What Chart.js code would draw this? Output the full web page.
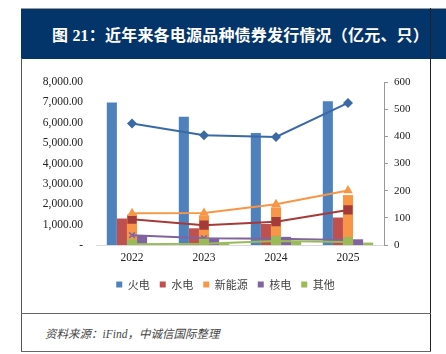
<!DOCTYPE html>
<html>
<head>
<meta charset="utf-8">
<script src="https://cdn.jsdelivr.net/npm/chart.js@4"></script>
<style>
  body { margin: 0; background: #fff; width: 446px; height: 354px; position: relative; overflow: hidden; }
  .band { position: absolute; left: 21px; top: 8px; width: 425px; height: 50px; background: #04356a; border-top: 1px solid #9a9a9a; }
  .title { position: absolute; left: 52px; top: 22px; color: #fff; font: bold 16px "Liberation Serif", "Noto Sans CJK SC"; white-space: nowrap; letter-spacing: 0.2px; }
  .vline { position: absolute; width: 1px; background: #555; }
  .hline { position: absolute; height: 1px; background: #666; }
  .source { position: absolute; left: 45px; top: 325px; color: #444; font: italic 11.5px "Liberation Serif", "Noto Sans CJK SC"; white-space: nowrap; }
  #wrap { position: absolute; left: 22px; top: 60px; }
</style>
</head>
<body>
<div class="band"></div>
<div class="title">图 21：近年来各电源品种债券发行情况（亿元、只）</div>
<div class="vline" style="left:21px;top:58px;height:294px;"></div>
<div class="vline" style="left:430px;top:8px;height:344px;background:#222;"></div>
<div class="hline" style="left:21px;top:313px;width:410px;"></div>
<div class="hline" style="left:21px;top:351px;width:410px;"></div>
<div class="source">资料来源：iFind，中诚信国际整理</div>
<div id="wrap"><canvas id="my-chart" width="407" height="240"></canvas></div>
<script>
// categories
const years = ['2022', '2023', '2024', '2025'];
const seriesNames = ['火电', '水电', '新能源', '核电', '其他'];

// issuance amount, 亿元 (left axis, bars)
const amountCoal = [7000, 6300, 5500, 7050];
const amountHydro = [1300, 820, 1030, 1350];
const amountNewEnergy = [1420, 1450, 1850, 2450];
const amountNuclear = [450, 350, 400, 280];
const amountOther = [60, 80, 150, 120];

// number of bonds, 只 (right axis, lines)
const countCoal = [447, 404, 398, 523];
const countHydro = [95, 73, 86, 129];
const countNewEnergy = [117, 118, 150, 201];
const countNuclear = [36, 25, 23, 18];
const countOther = [3, 5, 15, 11];

const barColors = ['#4f81bd', '#c0504d', '#f79646', '#8064a2', '#9bbb59'];
const lineColors = ['#3b69a6', '#a53b38', '#f79646', '#8064a2', '#9bbb59'];

function bar(i, data) {
  return { type: 'bar', label: seriesNames[i], data: data, yAxisID: 'y', backgroundColor: barColors[i], order: 10 };
}
function line(i, data, style, radius, order) {
  return {
    type: 'line', label: seriesNames[i] + '(只)', data: data, yAxisID: 'y1',
    borderColor: lineColors[i], backgroundColor: lineColors[i], borderWidth: 2,
    pointStyle: style, pointRadius: radius, pointBorderWidth: style === 'crossRot' ? 1.5 : 0,
    pointBorderColor: lineColors[i], tension: 0, order: order
  };
}

const tickFont = { family: 'Liberation Serif', size: 11.5 };

const ctx = document.getElementById('my-chart').getContext('2d');
const chart = new Chart(ctx, {
  data: {
    labels: years,
    datasets: [
      bar(0, amountCoal),
      bar(1, amountHydro),
      bar(2, amountNewEnergy),
      bar(3, amountNuclear),
      bar(4, amountOther),
      line(0, countCoal, 'rectRot', 5, 4),
      line(1, countHydro, 'rect', 6.5, 3),
      line(2, countNewEnergy, 'triangle', 5.5, 2),
      line(3, countNuclear, 'crossRot', 4, 1),
      line(4, countOther, 'rect', 7, 0)
    ]
  },
  options: {
    responsive: false,
    animation: false,
    layout: { padding: { top: 22, left: 0, right: 0, bottom: 0 } },
    datasets: { bar: { categoryPercentage: 0.7, barPercentage: 1 } },
    plugins: {
      tooltip: { enabled: false },
      legend: {
        position: 'bottom',
        labels: {
          boxWidth: 6, boxHeight: 6, padding: 10, color: '#404040',
          font: { family: 'Noto Sans CJK SC', size: 11 },
          filter: item => item.datasetIndex < 5
        }
      }
    },
    scales: {
      x: {
        grid: { display: false, drawTicks: false },
        border: { display: true, color: '#d9d9d9' },
        ticks: { color: '#222', font: tickFont, padding: 6 },
        afterFit: s => { s.height = 24; }
      },
      y: {
        position: 'left',
        min: 0, max: 8000,
        grid: { display: false, drawTicks: false },
        border: { display: false },
        ticks: {
          stepSize: 1000, color: '#222', font: tickFont, padding: 13,
          callback: v => v === 0 ? '-' : v.toLocaleString('en-US', { minimumFractionDigits: 2, maximumFractionDigits: 2 })
        },
        afterFit: s => { s.width = 74; }
      },
      y1: {
        position: 'right',
        min: 0, max: 600,
        grid: { display: true, drawOnChartArea: false, drawTicks: true, tickLength: 4, color: '#999' },
        border: { display: true, color: '#999' },
        ticks: { stepSize: 100, color: '#222', font: { family: 'Liberation Serif', size: 11 }, padding: 6 },
        afterFit: s => { s.width = 45; }
      }
    }
  }
});
</script>
</body>
</html>
